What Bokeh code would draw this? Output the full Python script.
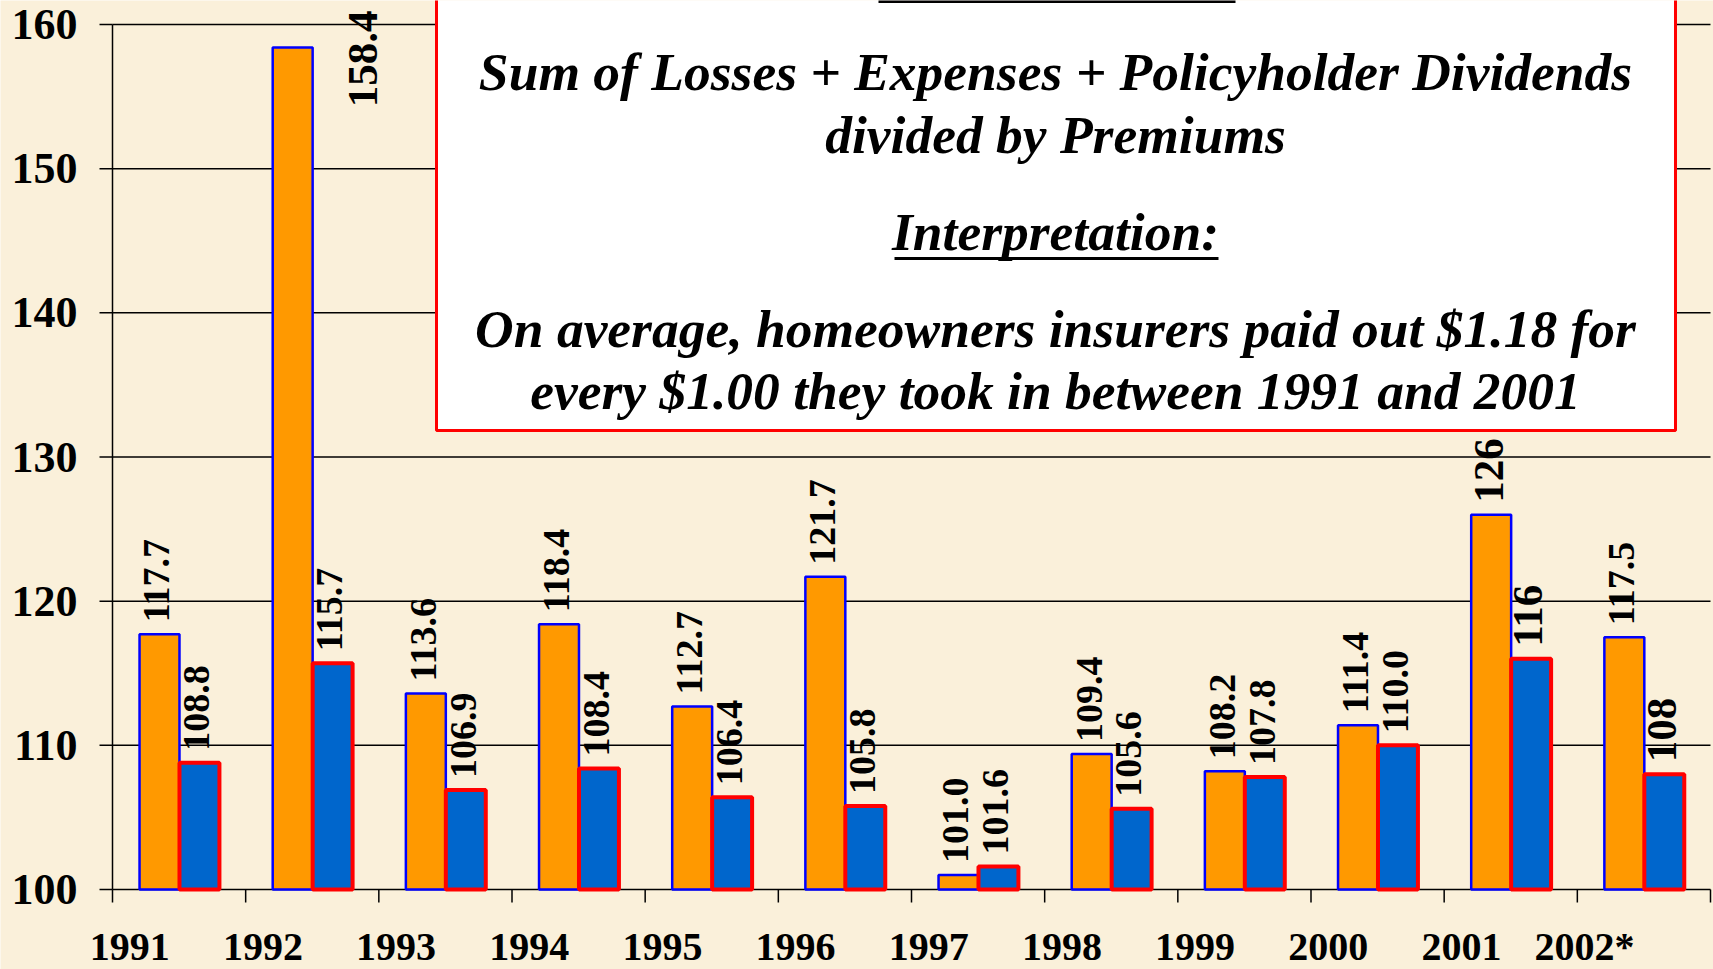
import math
from bokeh.plotting import figure
from bokeh.models import Range1d
from bokeh.core.properties import value
from bokeh.embed import file_html
from bokeh.resources import INLINE

# ---------------- data ----------------
years = ["1991", "1992", "1993", "1994", "1995", "1996", "1997", "1998", "1999", "2000", "2001", "2002*"]
series_a = [117.7, 158.4, 113.6, 118.4, 112.7, 121.7, 101.0, 109.4, 108.2, 111.4, 126.0, 117.5]
series_b = [108.8, 115.7, 106.9, 108.4, 106.4, 105.8, 101.6, 105.6, 107.8, 110.0, 116.0, 108.0]
labels_a = ["117.7", "158.4", "113.6", "118.4", "112.7", "121.7", "101.0", "109.4", "108.2", "111.4", "126", "117.5"]
labels_b = ["108.8", "115.7", "106.9", "108.4", "106.4", "105.8", "101.6", "105.6", "107.8", "110.0", "116", "108"]
y_ticks = [100, 110, 120, 130, 140, 150, 160]
y_tick_labels = ["100", "110", "120", "130", "140", "150", "160"]
box_lines = [
    "Sum of Losses + Expenses + Policyholder Dividends",
    "divided by Premiums",
    "Interpretation:",
    "On average, homeowners insurers paid out $1.18 for",
    "every $1.00 they took in between 1991 and 2001",
]

# ---------------- layout constants ----------------
W, H = 1713, 969
AX_L, AX_R = 112, 1710      # canvas x of the y axis line and right end of the x axis
Y0, Y1 = 100, 160
PX160, PX100 = 24, 889      # canvas y of the 160 and 100 lines
PPU = (PX100 - PX160) / (Y1 - Y0)
YTOP = Y1 + PX160 / PPU
YBOT = Y0 - (H - PX100) / PPU
N = len(years)
CW = (AX_R - AX_L) / N
XSTART = -AX_L / CW
XEND = N + (W - AX_R) / CW
TICK = 13

def dx(px):
    return (px - AX_L) / CW

def dy(py):
    return YTOP - py / PPU

SERIF = value("Liberation Serif")
BG = "#FAF0DA"

p = figure(width=W, height=H, x_range=Range1d(XSTART, XEND), y_range=Range1d(YBOT, YTOP),
           output_backend="svg", toolbar_location=None, x_axis_location=None,
           y_axis_location=None, min_border=0)
p.background_fill_color = BG
p.border_fill_color = BG
p.outline_line_color = None
p.grid.visible = False

# horizontal grid lines (the 100 line doubles as the x axis)
p.segment(x0=[0] * len(y_ticks), x1=[N] * len(y_ticks), y0=y_ticks, y1=y_ticks,
          line_color="black", line_width=1.5)
# y axis line, ticks and labels
p.segment(x0=[0], x1=[0], y0=[Y0], y1=[Y1], line_color="black", line_width=1.5)
p.segment(x0=[0] * len(y_ticks), x1=[-TICK / CW] * len(y_ticks), y0=y_ticks, y1=y_ticks,
          line_color="black", line_width=1.5)
p.text(x=[-(TICK + 22) / CW] * len(y_ticks), y=y_ticks, text=y_tick_labels,
       text_align="right", text_baseline="middle", text_font=SERIF,
       text_font_style="bold", text_font_size="44px", text_color="black")
# category boundary ticks on the x axis
bounds_x = list(range(N + 1))
p.segment(x0=bounds_x, x1=bounds_x, y0=[Y0] * (N + 1), y1=[Y0 - TICK / PPU] * (N + 1),
          line_color="black", line_width=1.5)

# bars
BW = 0.30
xa = [i + 0.353 for i in range(N)]
xb = [i + 0.653 for i in range(N)]
p.vbar(x=xa, top=series_a, bottom=Y0, width=BW, fill_color="#FF9900",
       line_color="#0000FF", line_width=2.5)
p.vbar(x=xb, top=series_b, bottom=Y0, width=BW, fill_color="#0066CC",
       line_color="#FF0000", line_width=4)

# value labels (rotated)
gap = 12 / PPU
groups = {}
for i in range(N):
    for xx, v, t in ((xa[i], series_a[i], labels_a[i]), (xb[i], series_b[i], labels_b[i])):
        if v > 150:
            key = ("right", "43px")
            pos = (i + 0.88, dy(10))
        else:
            key = ("left", "43px" if len(t) <= 3 else "38px")
            pos = (xx - 0.02, v + gap)
        g = groups.setdefault(key, ([], [], []))
        g[0].append(pos[0]); g[1].append(pos[1]); g[2].append(t)

for (align, size), (gx, gy, gt) in groups.items():
    p.text(x=gx, y=gy, text=gt, angle=math.pi / 2, text_align=align,
           text_baseline="middle", text_font=SERIF, text_font_style="bold",
           text_font_size=size, text_color="black")

# text box
p.quad(left=[dx(436)], right=[dx(1675)], bottom=[dy(430)], top=[YTOP + 10],
       fill_color="white", line_color="#FF0000", line_width=3)
line_ys = [71, 134, 231, 328, 390]
cx = dx(1055)
p.text(x=[cx] * len(box_lines), y=[dy(v) for v in line_ys], text=box_lines,
       text_align="center", text_baseline="middle", text_font=SERIF,
       text_font_style="bold italic", text_font_size="53.5px", text_color="black")
# underlines: heading above the visible area, and "Interpretation:"
p.segment(x0=[dx(878), dx(894)], x1=[dx(1235), dx(1218)], y0=[dy(1), dy(258)],
          y1=[dy(1), dy(258)], line_color="black", line_width=3)

# year labels below axis
p.text(x=[i + 0.43 for i in range(N)], y=[dy(946)] * N, text=years,
       text_align="right", text_baseline="middle", text_font=SERIF,
       text_font_style="bold", text_font_size="40px", text_color="black")

open("out.html", "w").write(file_html(p, INLINE))
